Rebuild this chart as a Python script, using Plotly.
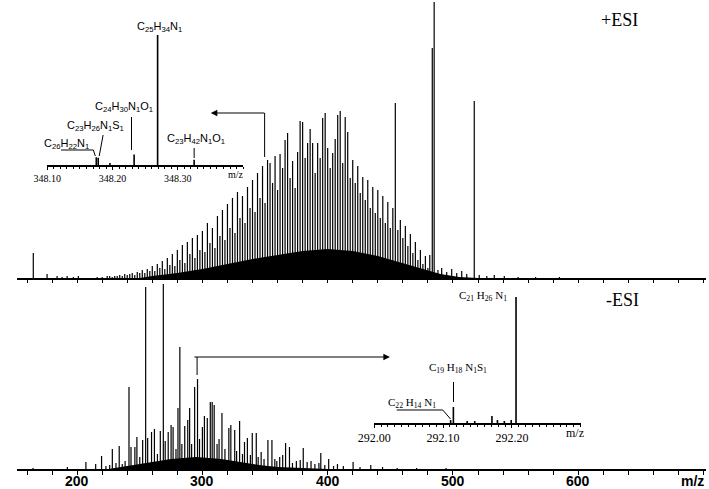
import plotly.graph_objects as go

# ---------------- data ----------------
# +ESI full-range spectrum: m/z and abundance (arbitrary units)
pos_mz = [165, 176, 184, 188, 192, 197, 201, 216, 220, 224,
          226, 228, 230, 232, 234, 236, 238, 240, 242, 244,
          246, 248, 250, 252, 254, 256, 258, 260, 262, 264,
          266, 268, 270, 272, 274, 276, 278, 280, 282, 284,
          286, 288, 290, 292, 294, 296, 298, 300, 302, 304,
          306, 308, 310, 312, 314, 316, 318, 320, 322, 324,
          326, 328, 330, 332, 334, 336, 338, 340, 342, 344,
          346, 348, 350, 352, 354, 356, 358, 360, 362, 364,
          366, 368, 370, 372, 374, 376, 378, 380, 382, 384,
          386, 388, 390, 392, 394, 396, 398, 400, 402, 404,
          406, 408, 410, 412, 414, 416, 418, 420, 422, 424,
          426, 428, 430, 432, 434, 436, 438, 440, 442, 444,
          446, 448, 450, 452, 454, 456, 458, 460, 462, 464,
          466, 468, 470, 472, 474, 476, 478, 480, 481.5, 483.5,
          485, 488, 491, 495, 499, 503, 507, 511, 517, 521,
          527, 533, 541, 552, 566, 585]
pos_int = [25, 4, 2, 1, 2, 1, 2, 1, 1, 2,
           2, 1, 2, 2, 3, 2, 4, 3, 4, 5,
           3, 6, 5, 8, 5, 9, 7, 12, 7, 14,
           10, 17, 9, 20, 13, 24, 12, 28, 18, 33,
           15, 36, 24, 40, 20, 43, 28, 47, 26, 55,
           35, 50, 30, 62, 42, 68, 38, 74, 50, 80,
           45, 86, 60, 82, 55, 91, 70, 98, 66, 105,
           80, 112, 75, 118, 115, 95, 122, 88, 124, 110,
           138, 145, 100, 117, 90, 126, 157, 156, 120, 135,
           149, 135, 105, 135, 120, 160, 165, 130, 110, 125,
           139, 163, 167, 115, 161, 146, 100, 118, 95, 112,
           85, 101, 78, 98, 70, 91, 65, 88, 60, 82,
           55, 76, 50, 70, 175, 48, 58, 40, 52, 32,
           44, 25, 36, 18, 28, 14, 22, 10, 23, 230,
           276, 8, 10, 6, 9, 5, 7, 4, 177, 3,
           2, 3, 2, 1, 1, 1]
# unresolved background (dense low-level ions) under the +ESI envelope
pos_bg_mz = [250, 260, 280, 300, 320, 340, 360, 380, 400, 420, 440, 460, 475, 490, 505, 520]
pos_bg_int = [0, 2, 5, 9, 14, 19, 23, 27, 29, 27, 22, 15, 9, 4, 1, 0]

# -ESI full-range spectrum
neg_mz = [164.8, 192.2, 207.0, 214.8, 219.5, 223.0, 226.0, 228.1, 231.0, 233.6,
          236.0, 238.3, 241.4, 243.0, 246.1, 247.7, 250.0, 252.3, 254.7, 256.3,
          259.4, 261.7, 264.1, 266.4, 268.8, 270.3, 272.7, 275.0, 276.6, 278.9,
          280.5, 282.0, 283.6, 285.9, 288.3, 289.8, 291.4, 293.8, 296.1, 297.7,
          300.0, 301.6, 303.9, 306.3, 307.8, 309.4, 311.7, 313.3, 315.6, 318.0,
          321.1, 322.7, 325.8, 327.3, 329.7, 332.0, 333.6, 335.9, 338.3, 339.8,
          343.0, 344.5, 346.9, 349.2, 352.3, 355.5, 357.8, 359.4, 361.7, 364.1,
          366.4, 369.5, 371.9, 375.0, 378.1, 380.5, 383.6, 386.7, 389.8, 393.0,
          394.5, 397.7, 400.8, 404.7, 407.8, 412.5, 420.3, 425.8, 434.4, 443.8,
          455.5, 471.0, 494.5]
neg_int = [1, 2, 7, 5, 13, 3, 4, 20, 6, 23,
           5, 8, 82, 22, 22, 32, 12, 29, 182, 31,
           37, 40, 15, 38, 185, 28, 37, 44, 42, 20,
           61, 122, 25, 43, 49, 61, 25, 82, 90, 30,
           42, 53, 51, 67, 67, 64, 25, 30, 56, 20,
           41, 44, 39, 18, 48, 15, 27, 31, 14, 36,
           36, 12, 17, 10, 29, 29, 10, 8, 12, 14,
           26, 22, 6, 8, 9, 21, 7, 8, 5, 6,
           16, 4, 10, 3, 5, 3, 7, 2, 4, 2,
           1, 1, 1]
neg_bg_mz = [225, 235, 245, 255, 265, 275, 285, 295, 305, 315, 325, 335, 345, 360, 380, 400]
neg_bg_int = [0, 2, 4, 6, 8, 10, 11, 12, 11, 10, 8, 6, 4, 2, 1, 0]

# zoomed inset around m/z 348 (+ESI), relative abundance %
pos_zoom_mz = [348.175, 348.178, 348.196, 348.233, 348.269, 348.325]
pos_zoom_int = [6, 5.5, 1.5, 8, 100, 4]
pos_zoom_ticks = [348.10, 348.20, 348.30]

# zoomed inset around m/z 292 (-ESI), relative abundance %
neg_zoom_mz = [292.111, 292.115, 292.135, 292.146, 292.171, 292.179, 292.189, 292.199, 292.206]
neg_zoom_int = [2.4, 12.7, 1.6, 1.6, 5.6, 2.4, 1.6, 2.4, 100]
neg_zoom_ticks = [292.00, 292.10, 292.20]

main_ticks = [200, 300, 400, 500, 600]

# ---------------- helpers ----------------
W, H = 709, 489
ML, MR, MT, MB = 2, 3, 0, 20
PW, PH = W - ML - MR, H - MT - MB


def X(px):
    return (px - ML) / PW


def Y(py):
    return (MT + PH - py) / PH


def sticks(mz, inten):
    xs, ys = [], []
    for m, v in zip(mz, inten):
        xs += [m, m, None]
        ys += [0, v, None]
    return xs, ys


fig = go.Figure()

# main spectra
x, y = sticks(pos_mz, pos_int)
fig.add_trace(go.Scatter(x=pos_bg_mz, y=pos_bg_int, mode="lines", fill="tozeroy",
                         fillcolor="black", line=dict(width=0, color="black"),
                         xaxis="x2", yaxis="y2", hoverinfo="skip"))
fig.add_trace(go.Scatter(x=x, y=y, mode="lines", line=dict(color="black", width=1.2),
                         xaxis="x2", yaxis="y2"))
x, y = sticks(neg_mz, neg_int)
fig.add_trace(go.Scatter(x=neg_bg_mz, y=neg_bg_int, mode="lines", fill="tozeroy",
                         fillcolor="black", line=dict(width=0, color="black"),
                         xaxis="x", yaxis="y", hoverinfo="skip"))
fig.add_trace(go.Scatter(x=x, y=y, mode="lines", line=dict(color="black", width=1.2),
                         xaxis="x", yaxis="y"))

# insets
x, y = sticks(pos_zoom_mz, pos_zoom_int)
fig.add_trace(go.Scatter(x=x, y=y, mode="lines", line=dict(color="black", width=1.6),
                         xaxis="x3", yaxis="y3"))
x, y = sticks(neg_zoom_mz, neg_zoom_int)
fig.add_trace(go.Scatter(x=x, y=y, mode="lines", line=dict(color="black", width=1.6),
                         xaxis="x4", yaxis="y4"))

SANS = "Liberation Sans"
SERIF = "Liberation Serif"

fig.update_layout(
    width=W, height=H, margin=dict(l=ML, r=MR, t=MT, b=MB),
    paper_bgcolor="white", plot_bgcolor="white", showlegend=False,
    xaxis=dict(domain=[0, 1], anchor="y", range=[152, 702], showline=True,
               linecolor="black", linewidth=2, showgrid=False, zeroline=False,
               ticks="outside", ticklen=4, tickwidth=1, tickcolor="black",
               tickvals=main_ticks, showticklabels=False,
               minor=dict(tickmode="linear", tick0=0, dtick=20, ticks="outside",
                          ticklen=4, tickcolor="black", showgrid=False)),
    yaxis=dict(domain=[0, 0.40], range=[0, 187.6], visible=False),
    xaxis2=dict(domain=[0, 1], anchor="y2", range=[152, 702], showline=True,
                linecolor="black", linewidth=1.5, showgrid=False, zeroline=False,
                ticks="outside", ticklen=3, tickcolor="black", tick0=0, dtick=20,
                showticklabels=False),
    yaxis2=dict(domain=[Y(278), 1], range=[0, 278], visible=False),
    xaxis3=dict(domain=[X(33), X(233)], anchor="y3", range=[348.10, 348.40],
                showline=True, linecolor="black", linewidth=1.5, showgrid=False,
                zeroline=False, ticks="outside", ticklen=3, tickcolor="black",
                tickvals=pos_zoom_ticks, ticktext=["%.2f" % t for t in pos_zoom_ticks],
                tickfont=dict(family=SERIF, size=10, color="black"),
                minor=dict(tickmode="linear", tick0=348.10, dtick=0.01, ticks="outside",
                           ticklen=2, tickcolor="black", showgrid=False)),
    yaxis3=dict(domain=[Y(165), Y(30)], range=[0, 103.8], visible=False),
    xaxis4=dict(domain=[X(367), X(578)], anchor="y4", range=[292.00, 292.30],
                showline=True, linecolor="black", linewidth=2, showgrid=False,
                zeroline=False, ticks="outside", ticklen=3, tickcolor="black",
                tickvals=neg_zoom_ticks, ticktext=["%.2f" % t for t in neg_zoom_ticks],
                tickfont=dict(family=SERIF, size=12, color="black"),
                minor=dict(tickmode="linear", tick0=292.0, dtick=0.01, ticks="outside",
                           ticklen=2, tickcolor="black", showgrid=False)),
    yaxis4=dict(domain=[Y(423), Y(290)], range=[0, 105.6], visible=False),
)

ann = []


def text(px, py, t, family, size, bold=False, anchor="center"):
    ann.append(dict(x=X(px), y=Y(py), xref="paper", yref="paper", text=t,
                    showarrow=False, xanchor=anchor, yanchor="middle",
                    font=dict(family=family, size=size, color="black",
                              weight="bold" if bold else "normal")))


# main axis tick labels (placed on the data axis)
for t in main_ticks:
    ann.append(dict(x=t, xref="x", y=Y(481), yref="paper", text=str(t),
                    showarrow=False, xanchor="center", yanchor="middle",
                    font=dict(family=SANS, size=14, color="black", weight="bold")))

text(618, 20, "+ESI", SERIF, 18)
text(621, 300, "-ESI", SERIF, 18)
text(706, 481, "m/z", SANS, 14, bold=True, anchor="right")
text(226, 174, "m/z", SERIF, 10)
text(572, 433, "m/z", SERIF, 12)

# +ESI inset labels
text(148, 27, "C<sub>25</sub>H<sub>34</sub>N<sub>1</sub>", SANS, 11)
text(111, 107, "C<sub>24</sub>H<sub>30</sub>N<sub>1</sub>O<sub>1</sub>", SANS, 11)
text(82, 126, "C<sub>23</sub>H<sub>26</sub>N<sub>1</sub>S<sub>1</sub>", SANS, 11)
text(53, 144, "C<sub>26</sub>H<sub>22</sub>N<sub>1</sub>", SANS, 11)
text(185, 139, "C<sub>23</sub>H<sub>42</sub>N<sub>1</sub>O<sub>1</sub>", SANS, 11)

# -ESI inset labels
text(478, 296, "C<sub>21</sub> H<sub>26</sub> N<sub>1</sub>", SERIF, 11)
text(453, 368, "C<sub>19</sub> H<sub>18</sub> N<sub>1</sub>S<sub>1</sub>", SERIF, 11)
text(406, 403, "C<sub>22</sub> H<sub>14</sub> N<sub>1</sub>", SERIF, 11)

# arrows
ann.append(dict(x=X(200), y=Y(113), xref="paper", yref="paper", text="",
                showarrow=True, ax=55, ay=0, arrowhead=2, arrowsize=1.3,
                arrowwidth=1, arrowcolor="black"))
ann.append(dict(x=X(383), y=Y(357), xref="paper", yref="paper", text="",
                showarrow=True, ax=-197, ay=0, arrowhead=2, arrowsize=1.3,
                arrowwidth=1, arrowcolor="black"))
fig.update_layout(annotations=ann)

shapes = []


def seg(p):
    path = "M " + " L ".join("%f,%f" % (X(a), Y(b)) for a, b in p)
    shapes.append(dict(type="path", path=path, xref="paper", yref="paper",
                       line=dict(color="black", width=1)))


seg([(255, 113), (255, 157)])
seg([(186, 357), (186, 375)])
seg([(119, 117), (119, 150)])
seg([(90, 135), (86, 156)])
seg([(47, 150), (80, 150), (82, 156)])
seg([(183, 148), (183, 158)])
seg([(448, 382), (448, 402)])
seg([(390, 410), (437, 410), (445, 419)])
fig.update_layout(shapes=shapes)

fig.write_html("out.html",
               config={"displayModeBar": False, "staticPlot": True},
               post_script="document.body.style.margin='0px';"
                           "document.body.style.overflow='hidden';")
